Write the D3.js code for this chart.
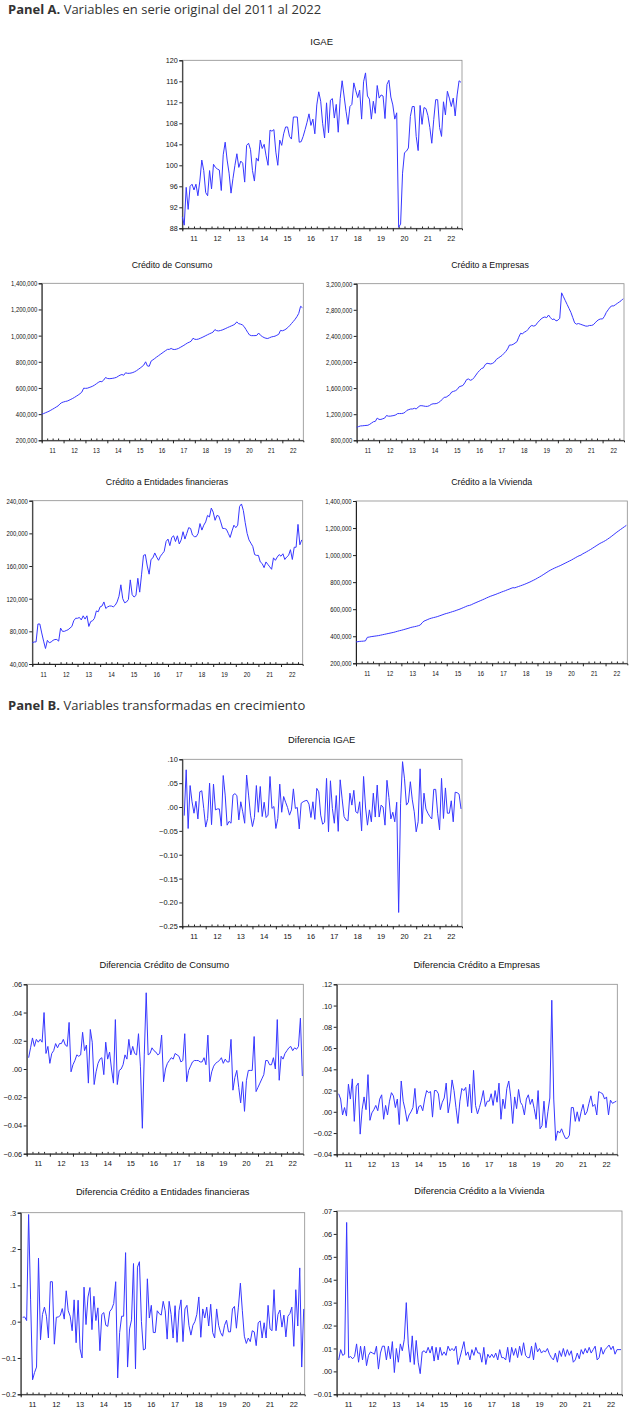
<!DOCTYPE html>
<html><head><meta charset="utf-8">
<script src="https://cdn.jsdelivr.net/npm/d3@7"></script>
<style>body{margin:0;background:#fff;} svg{display:block;}</style>
</head><body>
<svg id="c" width="630" height="1418"></svg>
<script>
// ---------- DATA ----------
const yearLabels = ["11","12","13","14","15","16","17","18","19","20","21","22"];

const igae = [
90.2,88.6,95.8,91.6,96.0,96.4,95.3,96.4,94.2,97.0,101.0,99.0,
94.8,94.2,99.0,95.5,100.2,99.6,99.3,99.1,95.2,102.0,104.4,101.0,
98.5,94.7,97.5,100.0,102.2,99.6,100.8,100.4,96.8,103.8,104.2,103.0,
99.0,97.0,101.4,100.8,104.8,103.2,104.0,101.8,100.0,106.7,106.5,106.8,
102.5,100.0,104.8,103.8,106.0,107.3,107.3,105.5,105.0,109.2,109.2,109.2,
104.4,104.5,105.5,106.8,108.2,109.8,107.6,108.8,106.0,111.5,114.0,112.2,
108.0,105.2,111.9,106.2,112.4,112.7,109.0,111.6,106.3,112.7,116.1,113.2,
110.3,107.8,111.2,111.6,115.7,114.2,112.9,114.3,108.8,115.9,117.6,113.2,
112.6,108.8,112.2,109.9,115.2,112.8,113.4,113.2,108.9,115.4,116.2,113.0,
111.5,108.8,110.0,88.2,88.8,98.5,102.4,102.7,103.3,109.3,111.2,111.2,
105.5,102.8,111.4,107.8,111.0,110.8,109.5,107.2,104.2,108.7,112.5,112.5,
107.2,105.5,112.1,109.6,114.1,112.8,111.2,112.8,109.4,113.4,116.1,115.8];

// thousands of pesos
const consumo = [
400,404,410,416,422,430,438,446,455,463,478,488,
493,497,500,506,513,520,528,537,546,556,568,598,
597,598,603,608,614,622,632,642,650,648,660,680,
673,671,672,674,677,681,690,698,703,697,716,712,
712,714,718,724,732,742,752,763,775,800,768,766,
805,815,825,836,846,856,866,876,886,895,895,902,
895,894,897,902,910,918,926,935,944,950,958,980,
972,971,974,980,986,993,1000,1007,1014,1020,1027,1046,
1038,1036,1039,1043,1049,1055,1062,1068,1074,1080,1088,1105,
1092,1088,1083,1070,1048,1025,1005,1000,1000,1000,1002,1020,
1003,993,985,980,978,984,990,993,996,1003,1010,1040,
1037,1042,1050,1062,1076,1092,1108,1125,1145,1170,1224,1214];

const empresas = [
1000,1010,1020,1022,1025,1028,1030,1045,1065,1085,1090,1140,
1120,1120,1130,1140,1180,1170,1170,1175,1180,1190,1210,1210,
1210,1215,1230,1260,1270,1280,1280,1290,1280,1310,1330,1330,
1325,1320,1320,1330,1350,1360,1360,1365,1380,1400,1430,1460,
1460,1480,1500,1540,1550,1560,1580,1620,1630,1640,1680,1730,
1740,1720,1730,1760,1800,1840,1870,1900,1910,1960,1980,1975,
1970,1980,2000,2040,2060,2080,2100,2130,2160,2200,2260,2260,
2270,2290,2310,2380,2440,2430,2460,2470,2500,2540,2560,2550,
2560,2600,2630,2660,2680,2690,2680,2720,2680,2650,2660,2630,
2640,2670,3060,3000,2940,2880,2820,2760,2680,2600,2580,2590,
2580,2570,2560,2550,2550,2560,2560,2570,2600,2630,2650,2660,
2660,2700,2760,2800,2840,2860,2860,2880,2900,2920,2940,2970];

const entidades = [
66,67,67,89,89,78,68,59,69,66,67,69,
70,70,68,84,80,80,81,82,84,86,93,96,
96,97,94,99,95,99,86,92,93,96,105,104,
110,111,116,108,110,111,111,110,112,116,123,137,
120,115,116,119,143,125,122,124,145,128,150,173,
174,160,150,168,170,176,171,167,172,175,178,190,
193,185,195,197,190,197,187,192,202,193,200,207,
206,198,196,196,200,212,204,210,214,222,220,231,
226,216,222,221,214,206,206,205,200,195,203,210,
207,210,233,236,228,213,200,192,188,184,174,173,
173,165,163,158,165,162,159,156,170,167,171,174,
172,175,168,171,173,180,168,183,183,211,186,192];

const vivienda = [
358,360,362,363,364,366,392,394,397,399,401,403,
405,408,411,414,417,420,423,426,429,433,437,441,
444,448,452,456,460,465,468,471,474,478,483,500,
512,518,524,530,534,538,541,545,550,555,560,565,
569,573,577,582,586,591,596,601,607,613,619,625,
628,633,640,646,652,658,664,670,676,683,689,695,
700,705,710,716,721,727,732,737,743,748,754,759,
758,763,768,773,778,783,789,795,801,808,815,822,
830,838,846,855,864,873,882,890,897,904,910,916,
922,929,936,943,950,957,964,972,980,988,995,1000,
1010,1017,1025,1033,1041,1050,1059,1068,1077,1086,1093,1100,
1108,1117,1127,1137,1148,1159,1170,1180,1190,1200,1210,1220];

// growth series (Feb 2011 - Dec 2022)
const dIgae = [
-.018,.078,-.045,.045,.011,-.013,.012,-.025,.032,.034,-.003,-.042,
-.024,.050,-.037,.048,-.006,-.004,-.004,-.040,.066,.025,-.038,-.030,
-.034,.025,.028,.024,-.027,.011,-.010,-.034,.067,.025,-.017,-.041,
-.022,.045,-.011,.043,-.020,.010,-.022,-.017,.064,-.003,.001,-.045,
-.024,.048,-.011,.022,.010,-.001,-.017,-.006,.038,-.003,-.001,-.046,
.008,.011,.013,.014,.006,-.022,.011,-.026,.039,.032,-.017,-.036,
-.032,.060,-.052,.055,-.003,-.034,.024,-.051,.057,.017,-.020,-.027,
-.029,.029,.004,.035,-.010,-.013,.011,-.050,.064,.000,-.038,-.006,
-.031,.029,-.021,.046,-.021,.004,.000,-.038,.056,.020,-.025,-.011,
-.031,.010,-.221,.008,.095,.059,.004,.010,.053,.015,-.010,-.052,
-.031,.080,-.035,.029,-.004,-.013,-.020,-.025,.037,.037,-.013,-.048,
.060,-.024,.040,-.013,-.013,.013,-.031,.031,.030,.027,-.004];

const dConsumo = [
.008,.015,.022,.016,.021,.019,.021,.019,.040,.011,.016,.004,
.011,.013,.018,.015,.018,.018,.021,.017,.016,.033,-.002,.003,
.006,.010,.009,.010,.026,.013,.017,-.010,.028,.019,-.011,-.002,
.004,.007,.008,-.004,.019,.007,.012,.000,-.010,.035,-.011,-.001,
.000,.003,.010,.007,.021,.010,.016,.011,.010,.025,.002,-.042,
.010,.054,.010,.011,.015,.013,.012,.010,.011,.024,-.009,.000,
.004,.006,.008,.007,.011,.010,.009,.005,.006,.025,-.009,-.001,
.002,.005,.006,.006,.006,.005,.005,.008,.003,.024,-.009,-.002,
.002,.004,.005,.006,.008,.004,.007,.005,.005,.021,-.015,-.006,
-.001,-.013,-.024,-.009,-.030,-.008,-.001,-.001,-.001,.023,-.016,-.013,
-.010,-.007,-.004,.006,.006,.003,.003,.008,.000,.035,-.008,.009,
.007,.011,.013,.015,.016,.013,.015,.014,.016,.036,-.005];

const dEmpresas = [
.017,.012,-.003,.004,-.004,.026,.012,.031,-.009,.024,.027,-.021,
.002,.014,.002,.035,-.008,-.001,.002,.006,.001,.012,.016,-.007,
.006,-.003,.010,.018,.015,.004,.012,-.012,.029,.010,.002,-.009,
-.003,.000,.004,.022,-.002,.005,.006,.001,.012,.020,.018,.019,
-.005,.020,.020,.017,.002,.009,.013,.027,-.001,.010,.030,.020,
.004,-.011,.010,.022,.020,.023,.005,.026,-.001,.039,.006,-.002,
.004,.011,.020,.005,.010,.010,.017,.006,.020,.009,.027,-.007,
.012,.003,.022,.029,.014,-.011,.014,.003,.021,.009,.006,-.003,
.012,.016,.007,.012,.003,-.007,.020,-.016,-.013,.010,-.015,.000,
.013,.105,.012,-.027,-.018,-.020,-.016,-.021,-.025,-.025,-.022,.004,
.004,-.009,.000,-.009,.000,.007,-.003,.000,.008,.015,.005,.007,
-.003,.019,.018,.017,.012,.014,-.003,.011,.008,.009,.010];

const dEntidades = [
.012,.013,.003,.295,.060,-.160,-.140,-.125,.175,-.050,.020,.040,.015,
-.045,.110,.110,-.062,.012,.013,.017,.036,.007,.085,.030,.015,
-.025,.060,-.058,.059,-.075,-.100,.095,-.008,.068,.094,-.022,.070,
.003,.038,-.080,.020,.025,-.010,-.013,.028,.035,.050,.110,-.155,
-.030,.015,.015,.190,-.125,-.020,.005,.160,-.130,.150,.165,.000,
-.078,-.075,.118,.010,.045,-.030,-.030,.030,.022,.018,.056,.030,
-.048,.056,.020,-.045,.044,-.057,.030,.060,-.055,.035,.045,-.010,
-.037,-.010,.000,.020,.068,-.043,.035,.010,.040,-.012,.048,-.030,
-.045,.035,-.010,-.030,-.040,-.010,.004,-.028,-.028,.035,.042,-.018,
.040,.106,.030,-.040,-.060,-.045,-.055,-.025,-.028,-.066,-.003,.002,
-.045,-.003,-.045,.045,-.020,-.025,.088,-.025,.020,.032,-.015,.018,
-.042,.015,.022,.040,-.068,.088,-.012,.148,-.125,.035];

const dVivienda = [
.005,.0095,.007,.0075,.065,.006,.0065,.0055,.0065,.012,.004,.011,
.005,.011,.0025,.007,.0085,.008,.0075,.011,.001,.008,.011,.011,
.005,.011,.0055,.013,-.0005,.010,.004,.012,.009,.014,.030,.012,
.004,.0155,.003,.0135,.004,-.001,.0085,.009,.008,.0105,.008,.011,
.0045,.0105,.005,.0105,.007,.0085,.007,.011,.009,.010,.009,.011,
.003,.006,.0095,.013,.007,.0085,.005,.0095,.007,.0105,.008,.008,
.004,.0105,.003,.0075,.006,.0075,.006,.008,.005,.0095,.006,.006,
.005,.0105,.004,.0105,.007,.010,.006,.011,.007,.0125,.007,.006,
.006,.011,.005,.0125,.0085,.010,.008,.009,.0085,.010,.0075,.006,
.005,.008,.004,.009,.0065,.010,.0065,.0095,.007,.009,.004,.005,
.008,.0055,.0095,.0075,.010,.008,.0105,.008,.0095,.011,.005,.006,
.0105,.0075,.0095,.0105,.0115,.0095,.011,.0075,.0095,.0095,.0095];

const igaeTicks = [88,92,96,100,104,108,112,116,120];
const consumoTicks = [200,400,600,800,1000,1200,1400];
const empresasTicks = [800,1200,1600,2000,2400,2800,3200];
const entidadesTicks = [40,80,120,160,200,240];
const viviendaTicks = [200,400,600,800,1000,1200,1400];
const dIgaeTicks = [-.25,-.20,-.15,-.10,-.05,0,.05,.10];
const dConsumoTicks = [-.06,-.04,-.02,0,.02,.04,.06];
const dEmpresasTicks = [-.04,-.02,0,.02,.04,.06,.08,.10,.12];
const dEntidadesTicks = [-.2,-.1,0,.1,.2,.3];
const dViviendaTicks = [-.01,0,.01,.02,.03,.04,.05,.06,.07];

// ---------- DRAW ----------
const svg = d3.select("#c");
const FONT = "'Liberation Sans', Arial, sans-serif";
const LINE = "#3737ff";

function heading(y, bold, rest) {
  const t = svg.append("text").attr("x", 8).attr("y", y)
    .attr("font-family", "'Open Sans', sans-serif").attr("font-size", 13).attr("fill", "#333");
  t.append("tspan").attr("font-weight", 700).text(bold);
  t.append("tspan").text(" " + rest);
}
heading(14, "Panel A.", "Variables en serie original del 2011 al 2022");
heading(710, "Panel B.", "Variables transformadas en crecimiento");

const thousands = d => d3.format(",")(d * 1000);
const dec = n => d => {
  let s = d3.format("." + n + "f")(d);
  return s.replace("-0.", "-.").replace(/^0\./, ".");
};

function drawPanel(p) {
  const g = svg.append("g");
  const x = d3.scaleLinear().domain([0, 143.5]).range([p.l, p.r]);
  const y = d3.scaleLinear().domain([p.ticks[0], p.ticks[p.ticks.length - 1]]).range([p.b, p.t]);

  g.append("rect").attr("x", p.l).attr("y", p.t).attr("width", p.r - p.l).attr("height", p.b - p.t)
    .attr("fill", "none").attr("stroke", "#8c8c8c").attr("stroke-width", 0.8);

  // y axis
  const ga = g.append("g").attr("transform", `translate(${p.l},0)`)
    .call(d3.axisLeft(y).tickValues(p.ticks).tickSizeOuter(0).tickSize(3).tickFormat(p.fmt));
  ga.select(".domain").attr("stroke", "#222");
  ga.selectAll(".tick line").attr("stroke", "#222");
  ga.selectAll(".tick text").attr("x", 0).attr("dy", "0.34em")
    .attr("transform", `translate(-4.5,0) scale(${p.sx},1)`)
    .attr("font-family", FONT).attr("font-size", p.fs).attr("fill", "#111");

  // x axis: quarterly minor ticks inside, year ticks outside
  const gb = g.append("g").attr("transform", `translate(0,${p.b})`)
    .call(d3.axisBottom(x).tickValues(d3.range(0, 144, 3)).tickSizeOuter(0).tickSize(2).tickFormat(""));
  gb.select(".domain").attr("stroke", "#222");
  gb.selectAll(".tick line").attr("stroke", "#222").attr("y2", -1.8);
  gb.selectAll(".tick").filter(d => d % 12 === 0).select("line").attr("y2", 3);

  g.selectAll(".yl").data(yearLabels).join("text")
    .attr("transform", (d, i) => `translate(${x(i * 12 + 6)},${p.b + 12.5}) scale(${p.sx},1)`)
    .attr("text-anchor", "middle").attr("font-family", FONT).attr("font-size", p.fs).attr("fill", "#111")
    .text(d => d);

  // line
  const start = 144 - p.values.length;
  const pts = p.values.map((v, i) => [i + start, v]);
  g.append("path").datum(pts)
    .attr("d", d3.line().x(d => x(d[0])).y(d => y(d[1])))
    .attr("fill", "none").attr("stroke", LINE).attr("stroke-width", 1).attr("stroke-linejoin", "round");

  // title
  g.append("text").attr("x", p.tx).attr("y", p.ty).attr("text-anchor", "middle")
    .attr("font-family", FONT).attr("font-size", p.tfs).attr("fill", "#111").text(p.title);
}

const panels = [
  {title:"IGAE", values:igae, ticks:igaeTicks, fmt:d=>d, l:182.3, r:462, t:60.3, b:228.3, tx:321.7, ty:45, fs:7.2, sx:1, tfs:9.5},
  {title:"Crédito de Consumo", values:consumo, ticks:consumoTicks, fmt:thousands, l:41.7, r:303.3, t:283.3, b:440.3, tx:172, ty:268.2, fs:7.2, sx:0.82, tfs:8.8},
  {title:"Crédito a Empresas", values:empresas, ticks:empresasTicks, fmt:thousands, l:356.7, r:624, t:283.7, b:440.3, tx:490, ty:268.2, fs:7.2, sx:0.82, tfs:8.8},
  {title:"Crédito a Entidades financieras", values:entidades, ticks:entidadesTicks, fmt:thousands, l:32.3, r:302.7, t:500.7, b:664, tx:167, ty:485, fs:7.2, sx:0.82, tfs:8.8},
  {title:"Crédito a la Vivienda", values:vivienda, ticks:viviendaTicks, fmt:thousands, l:356, r:627.3, t:501, b:663.3, tx:491.7, ty:485.3, fs:7.2, sx:0.82, tfs:8.8},
  {title:"Diferencia IGAE", values:dIgae, ticks:dIgaeTicks, fmt:dec(2), l:182.3, r:462, t:759.3, b:926.3, tx:321.7, ty:743.3, fs:7.4, sx:1, tfs:9.4},
  {title:"Diferencia Crédito de Consumo", values:dConsumo, ticks:dConsumoTicks, fmt:dec(2), l:26.7, r:303.3, t:984.3, b:1153.7, tx:164.3, ty:968.3, fs:7.4, sx:1, tfs:9.3},
  {title:"Diferencia Crédito a Empresas", values:dEmpresas, ticks:dEmpresasTicks, fmt:dec(2), l:336.7, r:617.3, t:984.3, b:1154.3, tx:476.7, ty:968.3, fs:7.4, sx:1, tfs:9.3},
  {title:"Diferencia Crédito a Entidades financieras", values:dEntidades, ticks:dEntidadesTicks, fmt:dec(1), l:20.7, r:304.7, t:1212.7, b:1394.3, tx:162.7, ty:1194.8, fs:7.4, sx:1, tfs:9.3},
  {title:"Diferencia Crédito a la Vivienda", values:dVivienda, ticks:dViviendaTicks, fmt:dec(2), l:336.7, r:622, t:1211, b:1394.3, tx:479.3, ty:1194, fs:7.4, sx:1, tfs:9.3}
];
panels.forEach(drawPanel);
</script>
</body></html>
